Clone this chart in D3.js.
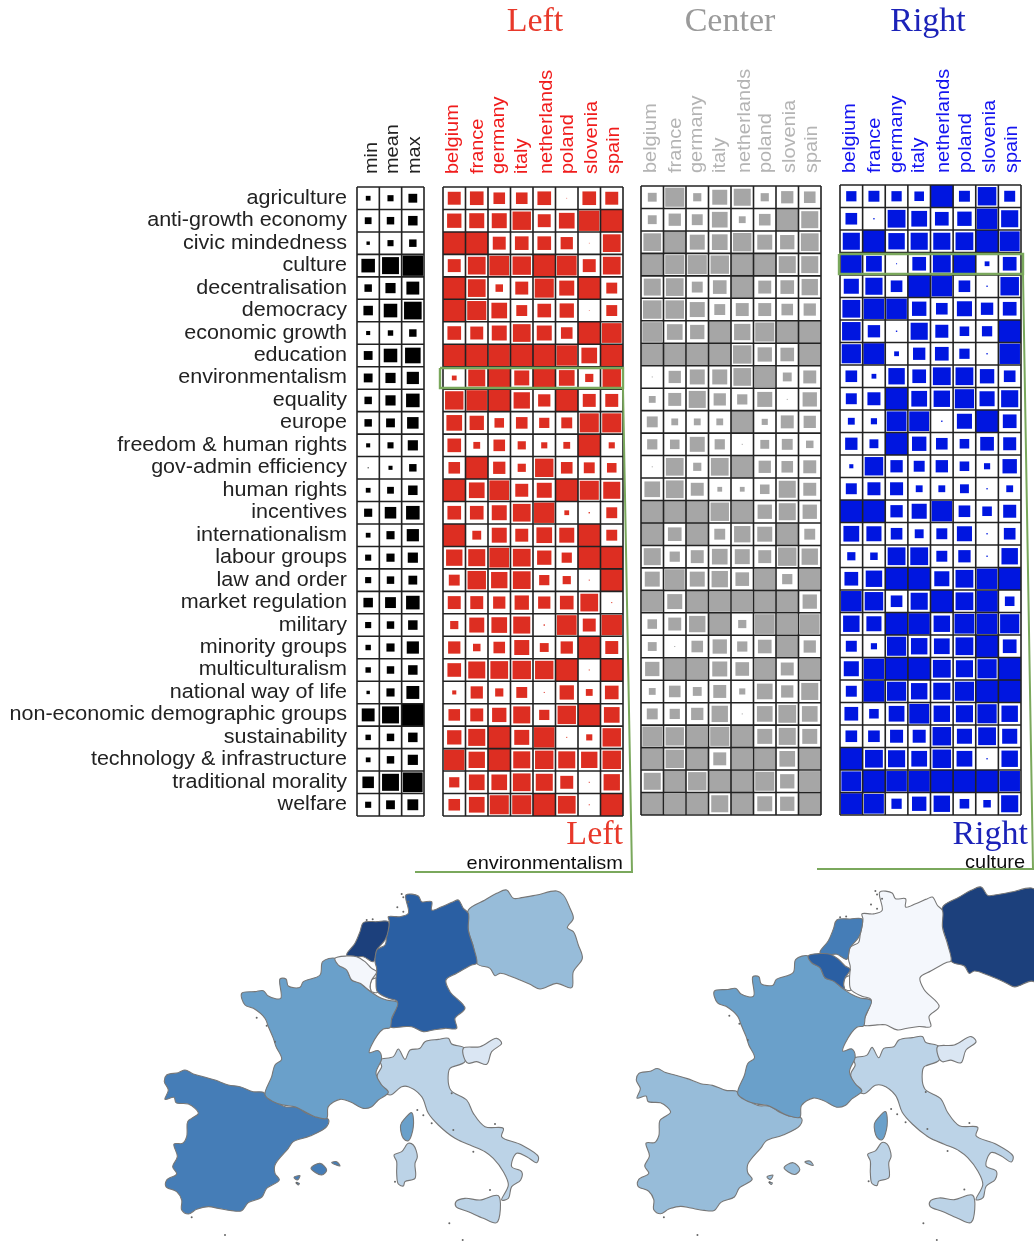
<!DOCTYPE html>
<html><head><meta charset="utf-8">
<script src="https://cdn.jsdelivr.net/npm/d3@7"></script>
<style>html,body{margin:0;padding:0;background:#fff;overflow:hidden}svg{display:block}</style>
</head><body><svg id="c" width="1034" height="1241"></svg>
<script>
// ---------- data ----------
const topics = ["agriculture","anti-growth economy","civic mindedness","culture","decentralisation","democracy","economic growth","education","environmentalism","equality","europe","freedom & human rights","gov-admin efficiency","human rights","incentives","internationalism","labour groups","law and order","market regulation","military","minority groups","multiculturalism","national way of life","non-economic demographic groups","sustainability","technology & infrastructure","traditional morality","welfare"];
const countries = ["belgium","france","germany","italy","netherlands","poland","slovenia","spain"];
const statNames = ["min","mean","max"];
const SCORE_MAX = 66;
const statValues = [[14,18,26],[20,22,28],[10,18,22],[40,50,60],[22,30,38],[28,40,52],[12,16,22],[26,40,46],[26,30,36],[22,30,40],[22,26,34],[12,18,30],[3,12,22],[14,20,28],[24,34,40],[14,24,36],[18,24,30],[18,22,26],[28,32,40],[18,22,28],[16,24,36],[16,22,28],[10,24,38],[38,50,66],[16,22,28],[14,22,30],[34,50,58],[18,26,32]];
const leftValues = [
[38,40,34,34,40,2,40,38],[42,44,44,54,38,46,60,66],[66,66,38,40,40,36,2,52],[38,52,58,54,66,58,38,52],
[66,52,22,38,56,44,66,32],[66,56,46,32,40,42,2,32],[40,38,44,52,44,34,66,58],[66,66,62,66,66,60,46,66],
[14,50,66,44,66,46,24,54],[54,60,66,48,36,66,38,38],[46,42,28,34,30,32,56,56],[40,20,34,24,18,20,66,18],
[34,66,36,24,54,34,32,28],[66,46,58,38,44,66,56,50],[40,40,44,52,60,14,4,32],[66,26,44,38,46,44,66,32],
[48,50,58,52,42,30,66,66],[32,54,48,52,30,24,3,66],[38,38,36,42,36,40,52,3],[24,44,46,50,4,58,38,60],
[36,22,34,44,26,36,66,38],[40,50,52,54,54,66,3,66],[12,36,24,32,3,42,20,40],[34,38,42,50,30,54,66,46],
[42,50,66,44,60,3,18,54],[60,48,66,50,54,50,48,54],[30,46,46,52,50,38,3,48],[34,46,56,56,66,52,3,66]];
const centerValues = [
[26,56,24,44,50,24,36,34],[26,36,32,46,20,34,66,50],[52,66,44,46,54,44,42,52],[66,56,56,54,66,66,50,50],
[50,52,32,40,66,38,40,48],[54,54,44,32,38,38,34,36],[58,46,42,66,48,56,66,66],[66,66,62,66,54,42,40,66],
[3,36,44,44,52,60,26,38],[20,38,50,36,30,44,3,42],[32,20,20,20,66,18,38,36],[30,28,44,30,3,26,32,22],
[3,52,24,52,66,36,34,38],[46,52,38,14,14,28,50,38],[66,66,66,54,62,42,50,42],[66,40,66,32,48,44,66,32],
[50,30,38,46,44,38,54,48],[44,58,44,48,40,60,30,60],[60,44,62,60,60,62,66,42],[28,38,48,66,24,58,60,58],
[26,3,34,42,30,40,66,36],[42,62,60,44,40,60,38,60],[20,34,26,38,18,46,36,50],[32,30,36,48,3,46,52,46],
[58,54,60,56,66,44,50,44],[62,54,66,38,60,62,46,62],[50,66,54,66,66,56,42,60],[66,60,62,50,66,44,42,66]];
const rightValues = [
[30,32,30,28,66,32,54,32],[34,4,52,46,40,42,60,50],[50,66,48,50,50,52,66,58],[60,46,3,40,52,66,14,40],
[44,50,34,66,60,34,4,54],[52,60,60,42,34,44,36,40],[54,36,4,50,38,28,30,66],[56,62,14,36,40,30,4,60],
[34,14,48,40,52,52,42,34],[32,38,66,46,48,56,44,50],[20,18,58,58,4,44,66,40],[36,26,66,42,34,28,40,38],
[12,54,36,32,36,28,18,42],[32,38,38,20,20,26,4,20],[66,66,36,44,60,34,28,38],[46,44,34,26,32,44,4,34],
[24,22,52,52,32,36,4,48],[40,48,66,66,44,52,60,66],[60,54,34,50,66,52,62,28],[48,44,66,62,48,58,60,56],
[32,18,56,48,46,52,66,40],[44,60,66,66,52,50,56,66],[32,62,56,48,50,56,66,66],[40,28,46,58,48,50,56,48],
[34,34,38,38,54,44,52,44],[66,52,50,46,54,46,4,48],[58,66,60,62,66,66,66,60],[62,58,30,42,48,28,22,50]];
// choropleth class (0 palest .. 7 darkest) per country
const leftMapRank  = {belgium:0,slovenia:1,italy:2,poland:3,france:4,spain:5,germany:6,netherlands:7};
const rightMapRank = {germany:0,slovenia:1,italy:2,spain:3,france:4,netherlands:5,belgium:6,poland:7};
// outlines: each ring is [originX, originY, points at 3x]
const traced = {
 spain:[
  [160,1060,[[505,178],[470,172],[440,160],[410,142],[375,140],[345,125],[320,108],[310,97],[280,95],[240,80],[205,75],[165,60],[130,50],[100,42],[75,30],[55,38],[20,45],[13,65],[25,90],[15,118],[42,112],[48,128],[85,132],[105,145],[115,160],[95,175],[83,185],[80,230],[68,250],[42,252],[52,290],[38,320],[50,342],[20,360],[18,380],[50,395],[65,420],[65,450],[85,462],[110,448],[145,440],[175,445],[215,452],[245,452],[265,428],[305,412],[320,385],[358,360],[345,340],[345,315],[385,265],[400,245],[450,228],[500,200]]],
  [160,1060,[[453,325],[480,310],[500,330],[485,345]]],[160,1060,[[515,308],[530,305],[540,318]]],[160,1060,[[402,352],[420,347],[412,360]]],[160,1060,[[408,368],[418,370],[415,375]]]],
 france:[
  [240,930,[[75,495],[95,440],[105,405],[125,388],[108,350],[100,325],[85,290],[75,265],[40,235],[15,225],[5,190],[45,185],[70,182],[85,198],[122,205],[120,147],[138,147],[145,168],[180,172],[190,155],[240,135],[248,95],[285,85],[295,105],[320,120],[335,150],[355,155],[385,180],[415,200],[440,210],[473,218],[455,265],[450,293],[430,297],[395,345],[388,368],[415,362],[425,385],[408,430],[425,465],[445,487],[415,510],[395,530],[370,535],[330,515],[300,508],[265,530],[260,565],[225,560],[195,545],[165,530],[130,525],[100,515]]],
  [370,1030,[[125,248],[130,290],[115,332],[100,325],[92,285],[105,265]]]],
 germany:[
  [370,885,[[58,110],[50,155],[45,180],[20,195],[15,230],[20,250],[18,290],[22,320],[55,340],[82,350],[60,425],[100,425],[125,425],[160,440],[190,435],[225,430],[260,430],[255,400],[285,370],[240,320],[228,285],[260,265],[305,240],[320,235],[310,185],[295,135],[295,85],[280,70],[265,45],[250,50],[215,65],[185,75],[185,50],[155,50],[145,33],[108,30],[115,85],[90,95],[80,95],[55,95]]]],
 poland:[
  [370,885,[[295,75],[345,45],[380,25],[410,15],[430,40],[455,38],[500,30],[560,18],[580,30],[600,70],[610,100],[592,128],[610,140],[625,180],[637,220],[610,260],[605,308],[560,295],[510,312],[480,298],[450,285],[425,275],[390,265],[375,272],[360,250],[322,237],[310,185],[295,135]]]],
 netherlands:[
  [150,880,[[590,225],[615,190],[630,155],[640,128],[680,125],[715,125],[715,150],[705,180],[680,210],[670,245],[640,230],[610,232]]]],
 belgium:[
  [240,930,[[285,85],[320,78],[350,80],[375,95],[395,115],[410,125],[395,150],[390,170],[393,183],[360,160],[335,150],[320,120],[295,105]]]],
 luxembourg:[
  [240,930,[[395,150],[410,145],[412,187],[393,183]]]],
 italy:[
  [370,1030,[[30,90],[70,80],[85,57],[105,88],[120,60],[150,55],[165,35],[205,28],[235,25],[245,42],[285,55],[285,95],[240,115],[235,130],[242,180],[290,210],[310,250],[345,290],[400,295],[395,320],[455,345],[505,380],[500,398],[470,380],[440,370],[425,410],[455,425],[452,450],[425,470],[415,505],[395,510],[415,465],[400,425],[370,385],[345,365],[300,345],[255,325],[205,285],[175,250],[155,200],[115,170],[95,170],[60,195],[30,170],[22,135],[35,110]]],
  [370,1030,[[258,515],[285,505],[330,510],[385,497],[380,578],[340,565],[295,545],[258,530]]],
  [370,1030,[[72,375],[95,365],[115,340],[130,345],[142,380],[135,400],[135,445],[105,455],[100,468],[85,462],[80,430],[80,395]]]],
 slovenia:[
  [370,1030,[[280,55],[330,50],[380,25],[395,40],[365,65],[350,103],[320,95],[295,100],[285,90]]]]
};
const isletDots = [[755,42],[760,52],[775,65],[742,82],[760,95],[650,120],[668,118],[320,413],[350,437],[375,485],[905,640],[802,690],[820,706],[845,730],[910,750],[1035,732],[970,815],[1020,930],[898,1030],[938,1080],[125,1012],[225,1065],[440,908],[735,905]];
const classColors = ["#f4f7fc","#dae6f3","#bcd3e7","#97bcd9","#6aa0ca","#447db7","#2c5fa3","#1a3f7c"];

// ---------- layout ----------
const svg = d3.select("#c");
const defs = svg.append("defs");
defs.append("filter").attr("id","soft").attr("filterUnits","userSpaceOnUse").attr("x",0).attr("y",0).attr("width",1034).attr("height",1241)
  .append("feGaussianBlur").attr("stdDeviation",0.5);
const root = svg.append("g").attr("filter","url(#soft)");
const sans = "'Liberation Sans',Arial,sans-serif", serif = "'Liberation Serif','Times New Roman',serif";
const RED="#dd2f20", GREY="#a6a6a6", BLUE="#0019e0", GREEN="#7aa85c";
const headerNudge = [15,17,16.4,16,18.5,17.9,19,18.5];

function panel(cfg){
  const x = d3.scaleBand().domain(cfg.cols).range(cfg.xr);
  const y = d3.scaleBand().domain(topics).range(cfg.yr);
  const side = d3.scaleLinear().domain([0,SCORE_MAX]).range([0,x.bandwidth()]);
  const g = root.append("g");
  const cells = cfg.values.flatMap((r,i)=>r.map((v,j)=>({t:topics[i],c:cfg.cols[j],v})));
  g.selectAll("rect.m").data(cells).join("rect").attr("class","m")
    .attr("x",d=>x(d.c)+(x.bandwidth()-side(d.v))/2)
    .attr("y",d=>y(d.t)+(y.bandwidth()-side(d.v)*y.bandwidth()/x.bandwidth())/2)
    .attr("width",d=>side(d.v))
    .attr("height",d=>side(d.v)*y.bandwidth()/x.bandwidth())
    .attr("fill",cfg.color);
  g.selectAll("line.v").data(d3.range(cfg.cols.length+1)).join("line").attr("class","v")
    .attr("x1",i=>cfg.xr[0]+i*x.step()).attr("x2",i=>cfg.xr[0]+i*x.step())
    .attr("y1",cfg.yr[0]).attr("y2",cfg.yr[1]).attr("stroke","#222").attr("stroke-width",1.6);
  g.selectAll("line.h").data(d3.range(topics.length+1)).join("line").attr("class","h")
    .attr("y1",i=>cfg.yr[0]+i*y.step()).attr("y2",i=>cfg.yr[0]+i*y.step())
    .attr("x1",cfg.xr[0]).attr("x2",cfg.xr[1]).attr("stroke","#222").attr("stroke-width",1.6);
  g.selectAll("text.h").data(cfg.cols).join("text").attr("class","h")
    .attr("transform",(d,i)=>`translate(${x(d)+cfg.nudge[i%cfg.nudge.length]},${cfg.labelY}) rotate(-90) scale(1.05,1)`)
    .attr("font-family",sans).attr("font-size",19).attr("fill",cfg.labelColor).text(d=>d);
  return {x,y};
}
const stats = panel({cols:statNames,values:statValues,xr:[357,424],yr:[187,816],color:"#000",labelColor:"#222",labelY:174,nudge:[20,18.5,18.5]});
panel({cols:countries,values:leftValues,xr:[443,623],yr:[187,816],color:RED,labelColor:"#f01c1c",labelY:174,nudge:headerNudge});
panel({cols:countries,values:centerValues,xr:[641,821],yr:[186,815],color:GREY,labelColor:"#b4b4b4",labelY:173,nudge:headerNudge});
panel({cols:countries,values:rightValues,xr:[840,1021],yr:[185,815],color:BLUE,labelColor:"#1212f0",labelY:173,nudge:headerNudge});

root.selectAll("text.r").data(topics).join("text").attr("class","r")
  .attr("transform",d=>`translate(347,${stats.y(d)+stats.y.bandwidth()/2+5.5}) scale(1.105,1)`)
  .attr("text-anchor","end").attr("font-family",sans).attr("font-size",19.5).attr("fill","#222").text(d=>d);

const titles=[["Left",535,31,"#e8392a"],["Center",730,31,"#9a9a9a"],["Right",928,31,"#1a22b8"]];
root.selectAll("text.t").data(titles).join("text").attr("class","t")
  .attr("x",d=>d[1]).attr("y",d=>d[2]).attr("text-anchor","middle")
  .attr("font-family",serif).attr("font-size",34).attr("fill",d=>d[3]).text(d=>d[0]);

// callouts
const callouts=[
 {title:"Left",sub:"environmentalism",color:"#e8392a",tx:623,sx:623,ty:844,sy:869,
  box:[[440,368],[623,368],[623,388],[440,388],[440,368]],line:[[623,388],[632,872],[415,872]]},
 {title:"Right",sub:"culture",color:"#1a22b8",tx:1028,sx:1025,ty:844,sy:868,
  box:[[839,254],[1023,254],[1023,274],[839,274],[839,254]],line:[[1023,274],[1033,869],[817,869]]}];
const ln=d3.line();
callouts.forEach(c=>{
  root.append("path").attr("d",ln(c.box)).attr("fill","none").attr("stroke",GREEN).attr("stroke-width",2.4);
  root.append("path").attr("d",ln(c.line)).attr("fill","none").attr("stroke",GREEN).attr("stroke-width",2);
  root.append("text").attr("x",c.tx).attr("y",c.ty).attr("text-anchor","end").attr("font-family",serif).attr("font-size",34).attr("fill",c.color).text(c.title);
  root.append("text").attr("transform",`translate(${c.sx},${c.sy}) scale(1.11,1)`).attr("text-anchor","end").attr("font-family",sans).attr("font-size",18).attr("fill","#111").text(c.sub);
});

// maps
const px = r => r[2].map(p=>[r[0]+p[0]/3, r[1]+p[1]/3]);
function drawMap(rank,xr,yr){
  const sx=d3.scaleLinear().domain([165,583]).range(xr);
  const sy=d3.scaleLinear().domain([891,1240]).range(yr);
  const color=d3.scaleOrdinal().domain(d3.range(8)).range(classColors);
  const line=d3.line().x(d=>sx(d[0])).y(d=>sy(d[1])).curve(d3.curveCatmullRomClosed.alpha(0.5));
  const g=root.append("g");
  g.selectAll(null).data(traced.luxembourg).join("path").attr("d",d=>line(px(d))).attr("fill","#fff").attr("stroke","#777").attr("stroke-width",1.1);
  ["poland","italy","slovenia","germany","spain","france","netherlands","belgium"].forEach(n=>{
    g.selectAll(null).data(traced[n]).join("path").attr("d",d=>line(px(d)))
     .attr("fill",color(rank[n])).attr("stroke","#777").attr("stroke-width",1.1).attr("stroke-linejoin","round");
  });
  g.selectAll("circle").data(isletDots).join("circle")
    .attr("cx",d=>sx(150+d[0]/3)).attr("cy",d=>sy(880+d[1]/3)).attr("r",1).attr("fill","#666");
}
drawMap(leftMapRank,[165,583],[891,1240]);
drawMap(rightMapRank,[637,1058],[888,1240]);
</script></body></html>
